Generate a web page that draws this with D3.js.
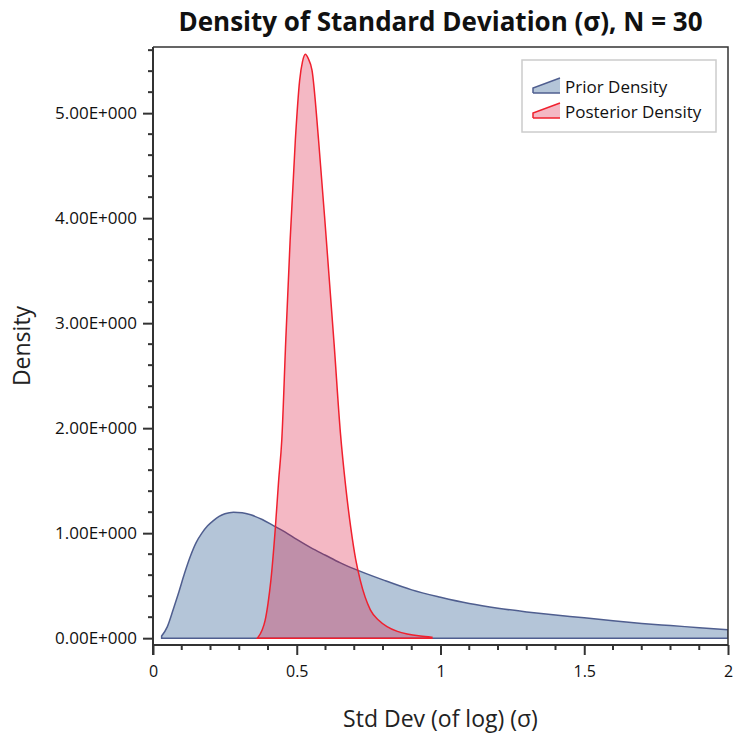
<!DOCTYPE html>
<html>
<head>
<meta charset="utf-8">
<script src="https://cdn.jsdelivr.net/npm/d3@7"></script>
<style>
    body { margin: 0; background: #fff; }
    text { font-family: "Open Sans", "Noto Sans", sans-serif; fill: #111; }
    .axis path, .axis line { stroke: #333; stroke-width: 2px; }
    .axis text { font-size: 16px; }
</style>
</head>
<body>
<div id="chart"></div>
<script>

// Chart data.
const titleText = "Density of Standard Deviation (\u03c3), N = 30";
const xLabel = "Std Dev (of log) (\u03c3)";
const yLabel = "Density";
const seriesNames = ["Prior Density", "Posterior Density"];

const xTicks = [0, 0.5, 1, 1.5, 2];
const xTickLabels = ["0", "0.5", "1", "1.5", "2"];
const yTicks = [0, 1, 2, 3, 4, 5];
const yTickLabels = ["0.00E+000", "1.00E+000", "2.00E+000", "3.00E+000", "4.00E+000", "5.00E+000"];

const priorX = [0.03, 0.05, 0.07, 0.09, 0.11, 0.13, 0.15, 0.17, 0.19, 0.21, 0.23, 0.25, 0.28, 0.31,
                0.34, 0.38, 0.42, 0.46, 0.5, 0.55, 0.6, 0.65, 0.7, 0.8, 0.9, 1.0, 1.1, 1.2, 1.3,
                1.4, 1.5, 1.6, 1.7, 1.8, 1.9, 2.0];
const priorY = [0.02, 0.11, 0.27, 0.44, 0.62, 0.78, 0.91, 1.00, 1.07, 1.12, 1.16, 1.185, 1.20, 1.195,
                1.175, 1.13, 1.07, 1.01, 0.94, 0.86, 0.79, 0.72, 0.66, 0.555, 0.46, 0.39, 0.33, 0.285, 0.25,
                0.22, 0.195, 0.165, 0.14, 0.12, 0.10, 0.08];

const postX = [0.363, 0.38, 0.39, 0.40, 0.41, 0.425, 0.437, 0.448, 0.462, 0.477, 0.495, 0.51, 0.52,
               0.53, 0.54, 0.553, 0.576, 0.603, 0.63, 0.652, 0.67, 0.688, 0.705, 0.721, 0.756, 0.785,
               0.814, 0.85, 0.884, 0.93, 0.97];
const postY = [0.0, 0.08, 0.17, 0.33, 0.55, 1.03, 1.50, 1.89, 2.85, 3.79, 4.74, 5.31, 5.49,
               5.56, 5.52, 5.41, 4.74, 3.79, 2.8, 1.95, 1.45, 1.05, 0.75, 0.55, 0.27, 0.17,
               0.11, 0.065, 0.04, 0.02, 0.01];

const width = 733, height = 738;
const margin = {top: 47, right: 5, bottom: 93, left: 153};
const xwidth = width - margin.left - margin.right;
const yheight = height - margin.top - margin.bottom;

const svg = d3.select("#chart").append("svg")
    .attr("width", width)
    .attr("height", height);

const g = svg.append("g")
    .attr("transform", "translate(" + margin.left + "," + margin.top + ")");

// Scales
const x = d3.scaleLinear().domain([0, 2]).range([0, xwidth]);
const y = d3.scaleLinear().domain([-0.065, 5.63]).range([yheight, 0]);

// Clip the areas to the plot box
g.append("clipPath").attr("id", "plotclip")
  .append("rect").attr("width", xwidth).attr("height", yheight);

const area = d3.area()
    .x(d => x(d[0]))
    .y0(y(0))
    .y1(d => y(d[1]))
    .curve(d3.curveMonotoneX);

const prior = priorX.map((v, i) => [v, priorY[i]]);
const post = postX.map((v, i) => [v, postY[i]]);

const plot = g.append("g").attr("clip-path", "url(#plotclip)");

// Prior area
plot.append("path")
    .attr("d", area(prior) + "Z")
    .attr("fill", "#b4c5d8")
    .attr("stroke", "#4f5e8f")
    .attr("stroke-width", 1.5);

// Posterior area, semi-transparent on top
plot.append("path")
    .attr("d", area(post) + "Z")
    .attr("fill", "rgba(220,20,60,0.3)")
    .attr("stroke", "#f0202e")
    .attr("stroke-width", 1.5);

// Frame (top and right)
g.append("path")
    .attr("d", "M0,0H" + xwidth + "V" + yheight)
    .attr("fill", "none")
    .attr("stroke", "#333")
    .attr("stroke-width", 1.5);

// Minor ticks
const xMinor = d3.range(1, 20).map(i => i / 10).filter(v => xTicks.indexOf(v) < 0);
const yMinor = d3.range(1, 29).map(i => i / 5).filter(v => Math.abs(v - Math.round(v)) > 1e-9);

// X Axis
const xAxis = g.append("g")
    .attr("class", "x axis")
    .attr("transform", "translate(0," + yheight + ")")
    .call(d3.axisBottom(x).tickValues(xTicks).tickSize(10).tickPadding(11)
          .tickFormat((d, i) => xTickLabels[i]));
xAxis.select(".domain").attr("d", "M0,0H" + xwidth);
xAxis.selectAll(".minor").data(xMinor).enter().append("line")
    .attr("class", "minor")
    .attr("x1", d => x(d)).attr("x2", d => x(d))
    .attr("y1", 0).attr("y2", 5);

// Y Axis
const yAxis = g.append("g")
    .attr("class", "y axis")
    .call(d3.axisLeft(y).tickValues(yTicks).tickSize(10).tickPadding(6)
          .tickFormat((d, i) => yTickLabels[i]));
yAxis.select(".domain").attr("d", "M0,0V" + (yheight + 10));
yAxis.selectAll(".minor").data(yMinor).enter().append("line")
    .attr("class", "minor")
    .attr("x1", 0).attr("x2", -5)
    .attr("y1", d => y(d)).attr("y2", d => y(d));
yAxis.selectAll(".tick text").style("font-size", "17px");

// Title
svg.append("text")
    .attr("x", margin.left + xwidth / 2)
    .attr("y", 31)
    .attr("text-anchor", "middle")
    .style("font-size", "26px")
    .style("font-weight", "bold")
    .text(titleText);

// Axis labels
svg.append("text")
    .attr("x", margin.left + xwidth / 2)
    .attr("y", 727)
    .attr("text-anchor", "middle")
    .style("font-size", "23px")
    .style("fill", "#222")
    .text(xLabel);

svg.append("text")
    .attr("transform", "translate(30," + (margin.top + yheight / 2) + ") rotate(-90)")
    .attr("text-anchor", "middle")
    .style("font-size", "23px")
    .style("fill", "#222")
    .text(yLabel);

// Legend
const legend = svg.append("g").attr("transform", "translate(522,60)");
legend.append("rect")
    .attr("width", 194).attr("height", 72)
    .attr("fill", "#fff")
    .attr("stroke", "#ccc")
    .attr("stroke-width", 1.5);

const legendFills = ["#b4c5d8", "rgba(220,20,60,0.3)"];
const legendStrokes = ["#4f5e8f", "#f0202e"];

seriesNames.forEach(function(name, i) {
    let base = 33 + i * 25;
    legend.append("path")
        .attr("d", "M11," + base + "V" + (base - 5) + "L38," + (base - 15) + "V" + base + "Z")
        .attr("fill", legendFills[i]);
    legend.append("path")
        .attr("d", "M11," + base + "V" + (base - 5) + "L38," + (base - 15))
        .attr("fill", "none")
        .attr("stroke", legendStrokes[i])
        .attr("stroke-width", 1.5);
    legend.append("path")
        .attr("d", "M11," + base + "H38")
        .attr("stroke", legendStrokes[i])
        .attr("stroke-width", 1.5);
    legend.append("text")
        .attr("x", 43)
        .attr("y", base)
        .style("font-size", "17px")
        .text(name);
});

</script>
</body>
</html>
